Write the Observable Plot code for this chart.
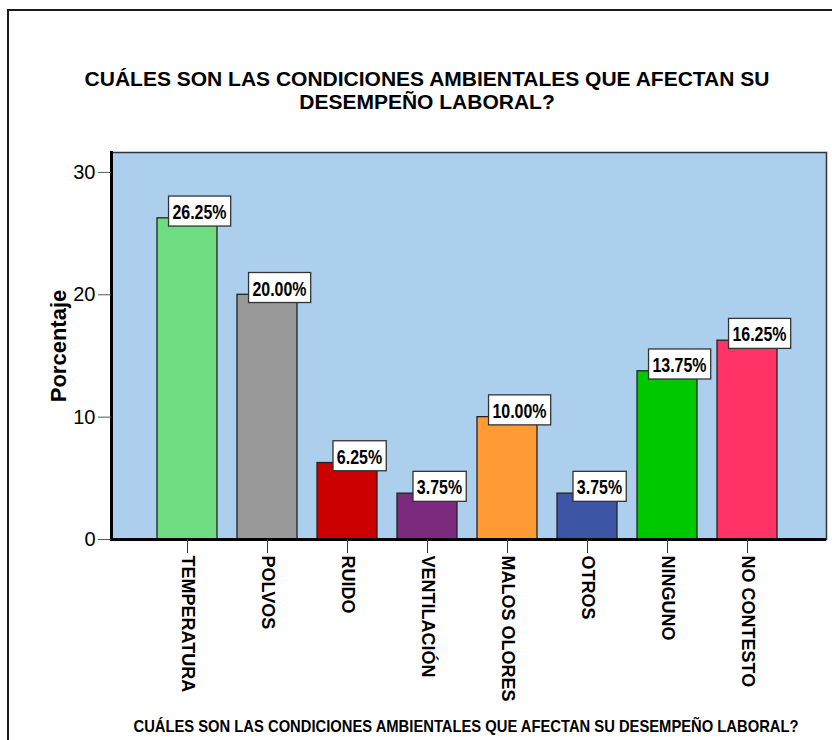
<!DOCTYPE html>
<html><head><meta charset="utf-8">
<script src="https://cdn.jsdelivr.net/npm/d3@7"></script>
<script src="https://cdn.jsdelivr.net/npm/@observablehq/plot@0.6"></script>
<style>
body{margin:0;background:#fff;}
#wrap{position:relative;width:832px;height:740px;overflow:hidden;background:#fff;font-family:"Liberation Sans",Arial,sans-serif;}
#border{position:absolute;left:7px;top:9px;width:1000px;height:1000px;border-left:2px solid #1a1a1a;border-top:2px solid #1a1a1a;}
.t{position:absolute;left:0;top:0;white-space:nowrap;color:#000;transform-origin:center center;line-height:1;}
#title{text-align:center;line-height:22.5px;}
#chart{position:absolute;left:0;top:140px;}
</style></head>
<body><div id="wrap"><div id="border"></div>
<div id="title" class="t" style="font-size:21px;font-weight:bold">CUÁLES SON LAS CONDICIONES AMBIENTALES QUE AFECTAN SU<br>DESEMPEÑO LABORAL?</div>
<div id="chart"></div>
<div id="cap" class="t" style="font-size:17px;font-weight:bold">CUÁLES SON LAS CONDICIONES AMBIENTALES QUE AFECTAN SU DESEMPEÑO LABORAL?</div>
</div>
<script>
const categories = ["TEMPERATURA","POLVOS","RUIDO","VENTILACIÓN","MALOS OLORES","OTROS","NINGUNO","NO CONTESTO"];
const percentages = [26.25, 20.00, 6.25, 3.75, 10.00, 3.75, 13.75, 16.25];
const yTicks = [0, 10, 20, 30];
const barColors = ["#70dc82","#999999","#cc0000","#7b2a7d","#ff9a35","#3c56a5","#00c800","#ff3366"];

const data = categories.map((c, i) => ({cat: c, pct: percentages[i]}));

const chart = Plot.plot({
  width: 832, height: 569,
  marginLeft: 111, marginRight: 6, marginTop: 12, marginBottom: 170,
  style: {fontFamily: "Liberation Sans, Arial, sans-serif", background: "transparent", overflow: "visible", color: "#000"},
  x: {domain: categories, range: [147, 787], paddingInner: 0.25, paddingOuter: 0.125, label: null},
  y: {domain: [0, 31.63], label: null},
  color: {domain: categories, range: barColors},
  marks: [
    Plot.frame({fill: "#abcfed", stroke: null}),
    Plot.barY(data, {x: "cat", y: "pct", fill: "cat", stroke: "#222", strokeWidth: 1.3}),
    Plot.frame({stroke: "#333", strokeWidth: 1.5}),
    Plot.frame({anchor: "left", stroke: "#000", strokeWidth: 3}),
    Plot.ruleY([0], {stroke: "#000", strokeWidth: 3}),
    Plot.axisY({ticks: yTicks, tickSize: 13, tickPadding: 3, fontSize: 20, stroke: "#555", fill: "#000", label: null, tickFormat: d3.format("d")}),
    Plot.axisX({tickSize: 14, tickPadding: 2, tickRotate: 90, fontSize: 18, fontWeight: "bold", stroke: "#333", fill: "#000", label: null}),
    Plot.text(data, {x: "cat", y: "pct", text: d => d.pct.toFixed(2) + "%", dx: 12, dy: -6, fontSize: 21, fontWeight: "bold", fill: "#000"}),
    Plot.text(["Porcentaje"], {frameAnchor: "left", textAnchor: "middle", dx: -53, rotate: -90, fontSize: 22, fontWeight: "bold", fill: "#000"})
  ]
});
document.getElementById("chart").append(chart);

// white boxed value labels, condensed like the original
const svgns = "http://www.w3.org/2000/svg";
const valueGroup = chart.querySelectorAll('g[aria-label="text"]')[0];
valueGroup.querySelectorAll("text").forEach(t => {
  const w = t.getComputedTextLength();
  const tw = w * 0.76;
  t.setAttribute("textLength", tw);
  t.setAttribute("lengthAdjust", "spacingAndGlyphs");
  const bb = t.getBBox();
  const cx = bb.x + bb.width / 2;
  const cy = bb.y + bb.height / 2;
  const r = document.createElementNS(svgns, "rect");
  r.setAttribute("x", cx - tw / 2 - 4);
  r.setAttribute("y", cy - 15.5);
  r.setAttribute("width", tw + 8);
  r.setAttribute("height", 30);
  r.setAttribute("fill", "#fff");
  r.setAttribute("stroke", "#333");
  r.setAttribute("stroke-width", 1.3);
  if (t.getAttribute("transform")) r.setAttribute("transform", t.getAttribute("transform"));
  t.parentNode.insertBefore(r, t);
});

function place(id, cx, cy, target) {
  const el = document.getElementById(id);
  const b = el.getBoundingClientRect();
  el.style.left = (cx - b.width / 2) + "px";
  el.style.top = (cy - b.height / 2) + "px";
  if (target) el.style.transform = `scaleX(${target / b.width})`;
}
place("title", 427, 90.5);
place("cap", 466, 726, 665);
</script>
</body></html>
